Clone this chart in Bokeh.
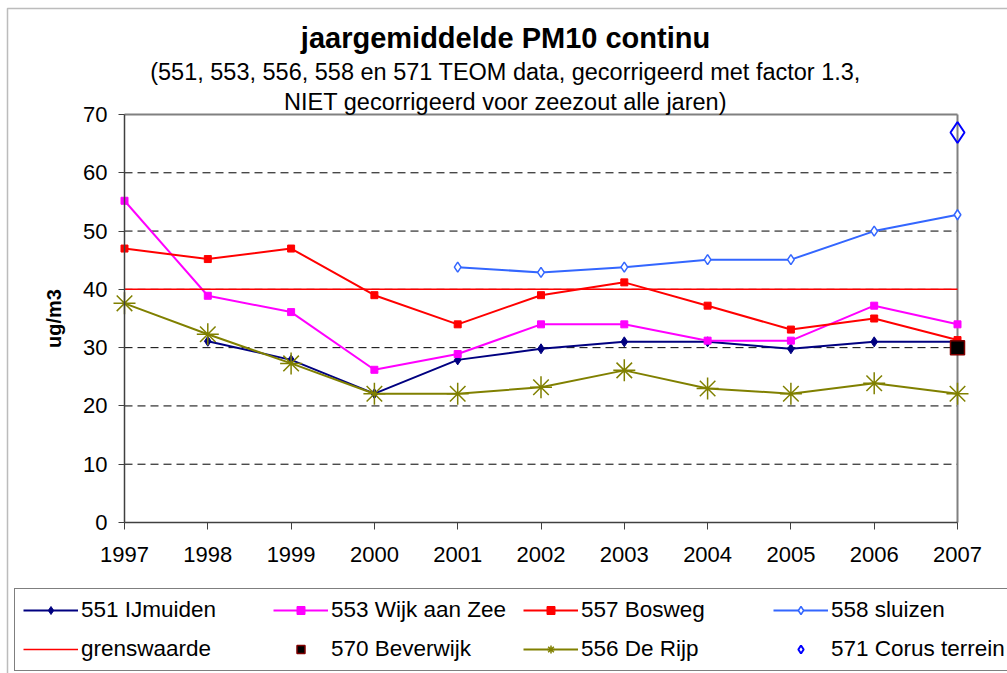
import numpy as np
from bokeh.plotting import figure
from bokeh.models import (ColumnDataSource, Range1d, FixedTicker, Label, Legend,
                          LegendItem, LinearAxis, BoxAnnotation)
from bokeh.embed import file_html
from bokeh.resources import INLINE

nan = np.nan

years = [1997, 1998, 1999, 2000, 2001, 2002, 2003, 2004, 2005, 2006, 2007]
ijmuiden_551 = [nan, 31.1, 27.9, 22.1, 27.9, 29.8, 31.0, 31.0, 29.8, 31.0, 31.0]
wijk_aan_zee_553 = [55.2, 38.9, 36.1, 26.2, 28.9, 34.0, 34.0, 31.2, 31.2, 37.2, 34.0]
bosweg_557 = [47.0, 45.2, 47.0, 39.0, 34.0, 39.0, 41.2, 37.2, 33.1, 35.0, 31.3]
sluizen_558 = [nan, nan, nan, nan, 43.8, 42.9, 43.8, 45.1, 45.1, 50.0, 52.8]
grenswaarde = [40, 40, 40, 40, 40, 40, 40, 40, 40, 40, 40]
beverwijk_570 = [nan, nan, nan, nan, nan, nan, nan, nan, nan, nan, 30.0]
de_rijp_556 = [37.6, 32.3, 27.3, 22.1, 22.1, 23.2, 26.1, 23.0, 22.1, 23.9, 22.1]
corus_571 = [nan, nan, nan, nan, nan, nan, nan, nan, nan, nan, 66.9]

y_ticks = [0, 10, 20, 30, 40, 50, 60, 70]
grid_ticks = [10, 20, 30, 40, 50, 60]
y_min, y_max = 0, 70

title_text = "jaargemiddelde PM10 continu"
subtitle_1 = "(551, 553, 556, 558 en 571 TEOM data, gecorrigeerd met factor 1.3,"
subtitle_2 = "NIET gecorrigeerd voor zeezout alle jaren)"
y_label = "ug/m3"

src = ColumnDataSource(dict(
    year=years, s551=ijmuiden_551, s553=wijk_aan_zee_553, s557=bosweg_557,
    s558=sluizen_558, grens=grenswaarde, s570=beverwijk_570, s556=de_rijp_556,
    s571=corus_571,
))

FONT = "Liberation Sans"
W, H = 1007, 673
# plot-area pixel box on the canvas
PL, PR, PT, PB = 124, 957, 114, 522
x0, x1 = years[0], years[-1]
xs = (PR - PL) / (x1 - x0)
ys = (PB - PT) / (y_max - y_min)
x_range = Range1d(x0 - PL / xs, x1 + (W - PR) / xs)
y_range = Range1d(y_min - (H - PB) / ys, y_max + PT / ys)

p = figure(width=W, height=H, output_backend="svg", toolbar_location=None,
           x_range=x_range, y_range=y_range,
           x_axis_location=None, y_axis_location=None, title=None,
           min_border_left=0, min_border_right=0, min_border_top=0,
           min_border_bottom=0)
p.outline_line_color = None
p.background_fill_color = "white"
p.border_fill_color = "white"
p.grid.visible = False

AX = "#404040"
# x axis at y = 0
xa = LinearAxis(fixed_location=y_min, ticker=FixedTicker(ticks=years), bounds=(x0, x1))
xa.axis_line_color = AX
xa.axis_line_width = 1.5
xa.major_tick_line_color = AX
xa.major_tick_out = 7
xa.major_tick_in = 0
xa.minor_tick_line_color = None
xa.major_label_text_font = FONT
xa.major_label_text_font_size = "22px"
xa.major_label_text_color = "black"
xa.major_label_standoff = 17
p.add_layout(xa, "below")

# y axis at the first year
ya = LinearAxis(fixed_location=x0, ticker=FixedTicker(ticks=y_ticks), bounds=(y_min, y_max))
ya.axis_line_color = AX
ya.axis_line_width = 1.5
ya.major_tick_line_color = AX
ya.major_tick_out = 6
ya.major_tick_in = 0
ya.minor_tick_line_color = None
ya.major_label_text_font = FONT
ya.major_label_text_font_size = "22px"
ya.major_label_text_color = "black"
ya.major_label_standoff = 11
ya.axis_label = y_label
ya.axis_label_text_font = FONT
ya.axis_label_text_font_size = "20px"
ya.axis_label_text_font_style = "bold"
ya.axis_label_text_color = "black"
ya.axis_label_standoff = 15
p.add_layout(ya, "left")

# outer chart border
p.add_layout(BoxAnnotation(left=7, right=W + 20, top=H - 8, bottom=-20,
                           left_units="screen", right_units="screen",
                           top_units="screen", bottom_units="screen",
                           fill_color=None, line_color="#222222", line_width=1.5,
                           level="overlay"))

# horizontal dashed gridlines between first and last year
n_grid = len(grid_ticks)
p.segment(x0=[x0] * n_grid, y0=grid_ticks, x1=[x1] * n_grid, y1=grid_ticks,
          line_color="black", line_dash="8 5", line_width=1)

# plot-area border (top and right, grey)
p.segment(x0=[x0], y0=[y_max], x1=[x1], y1=[y_max], line_color="#808080", line_width=2)
p.segment(x0=[x1], y0=[y_min], x1=[x1], y1=[y_max], line_color="#808080", line_width=2)

items = []

l551 = p.line("year", "s551", source=src, line_color="#000080", line_width=2)
m551 = p.scatter("year", "s551", source=src, marker="diamond", size=10,
                 fill_color="#000080", line_color="#000080")
items.append(LegendItem(label="551 IJmuiden", renderers=[l551, m551]))

l553 = p.line("year", "s553", source=src, line_color="#FF00FF", line_width=2)
m553 = p.scatter("year", "s553", source=src, marker="square", size=7,
                 fill_color="#FF00FF", line_color="#FF00FF")
items.append(LegendItem(label="553 Wijk aan Zee", renderers=[l553, m553]))

l557 = p.line("year", "s557", source=src, line_color="#FF0000", line_width=2)
m557 = p.scatter("year", "s557", source=src, marker="square", size=7,
                 fill_color="#FF0000", line_color="#FF0000")
items.append(LegendItem(label="557 Bosweg", renderers=[l557, m557]))

l558 = p.line("year", "s558", source=src, line_color="#3366FF", line_width=2)
m558 = p.scatter("year", "s558", source=src, marker="diamond", size=10,
                 fill_color="white", line_color="#3366FF", line_width=1.5)
items.append(LegendItem(label="558 sluizen", renderers=[l558, m558]))

lg = p.line("year", "grens", source=src, line_color="#FF0000", line_width=1.5)
items.append(LegendItem(label="grenswaarde", renderers=[lg]))

m570 = p.scatter("year", "s570", source=src, marker="square", size=14,
                 fill_color="black", line_color="#800000", line_width=1.5)
items.append(LegendItem(label="570 Beverwijk", renderers=[m570]))

l556 = p.line("year", "s556", source=src, line_color="#808000", line_width=2)
m556 = p.scatter("year", "s556", source=src, marker="asterisk", size=22,
                 line_color="#808000", line_width=1.5)
items.append(LegendItem(label="556 De Rijp", renderers=[l556, m556]))

m571 = p.scatter("year", "s571", source=src, marker="diamond", size=21,
                 fill_color=None, line_color="#0000FF", line_width=2)
items.append(LegendItem(label="571 Corus terrein", renderers=[m571]))

legend = Legend(items=items, location=(14, 2), orientation="horizontal", ncols=4,
                glyph_width=55, glyph_height=20, label_height=20, label_width=179,
                label_standoff=3, spacing=13, padding=8, margin=0,
                border_line_color="black", border_line_width=1,
                background_fill_color="white", background_fill_alpha=1.0,
                label_text_font=FONT, label_text_font_size="22.5px",
                label_text_color="black")
p.add_layout(legend, "center")

# titles (screen units, measured from the canvas bottom-left)
TX = 505
p.add_layout(Label(x=TX, y=H - 37, x_units="screen", y_units="screen", text=title_text,
                   text_font=FONT, text_font_size="29px", text_font_style="bold",
                   text_align="center", text_baseline="middle", text_color="black"))
p.add_layout(Label(x=TX, y=H - 71, x_units="screen", y_units="screen", text=subtitle_1,
                   text_font=FONT, text_font_size="23.5px",
                   text_align="center", text_baseline="middle", text_color="black"))
p.add_layout(Label(x=TX, y=H - 101, x_units="screen", y_units="screen", text=subtitle_2,
                   text_font=FONT, text_font_size="23.5px",
                   text_align="center", text_baseline="middle", text_color="black"))

open("out.html", "w").write(file_html(p, INLINE))
